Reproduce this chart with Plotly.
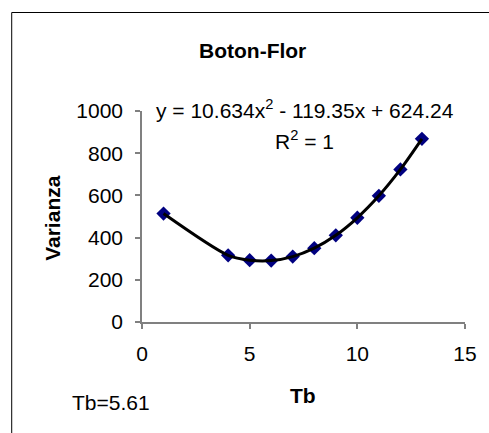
import plotly.graph_objects as go

tb = [1, 4, 5, 6, 7, 8, 9, 10, 11, 12, 13]
varianza = [514, 316, 293, 291, 310, 350, 411, 494, 598, 723, 868]
x_ticks = [0, 5, 10, 15]
y_ticks = [0, 200, 400, 600, 800, 1000]

W, H = 489, 433
L, R, T, B = 142, 21, 111, 111
pw, ph = W - L - R, H - T - B

def px(x):
    return (x - L) / pw

def py(y):
    return (H - B - y) / ph

FONT = "Liberation Sans, Arial, sans-serif"

fig = go.Figure()
fig.add_trace(go.Scatter(
    x=tb, y=varianza, mode="markers",
    marker=dict(symbol="diamond", size=11, color="#000080"),
    showlegend=False, cliponaxis=False,
))
fig.add_trace(go.Scatter(
    x=tb, y=varianza, mode="lines",
    line=dict(color="black", width=3, shape="spline", smoothing=0.8),
    showlegend=False, cliponaxis=False,
))

axis_common = dict(showgrid=False, zeroline=False, showline=True,
                   linecolor="#808080", linewidth=1.5, ticks="outside",
                   ticklen=5, tickcolor="#808080", tickwidth=1.5,
                   tickfont=dict(family=FONT, size=21, color="black"))

fig.update_xaxes(range=[0, 15], tickvals=x_ticks, ticklabelstandoff=7, **axis_common)
fig.update_yaxes(range=[0, 1000], tickvals=y_ticks, ticklabelstandoff=8, **axis_common)

ann = [
    dict(text="<b>Boton-Flor</b>", x=px(254), y=py(50), size=21),
    dict(text="<b>Varianza</b>", x=px(51), y=py(218), size=21, angle=-90),
    dict(text="<b>Tb</b>", x=px(304), y=py(395), size=21),
    dict(text="Tb=5.61", x=px(111), y=py(402), size=21),
    dict(text="y = 10.634x<sup>2</sup> - 119.35x + 624.24", x=px(307), y=py(109), size=21),
    dict(text="R<sup>2</sup> = 1", x=px(306), y=py(140), size=21),
]
for a in ann:
    fig.add_annotation(text=a["text"], x=a["x"], y=a["y"], xref="paper", yref="paper",
                       xanchor="center", yanchor="middle", showarrow=False,
                       textangle=a.get("angle", 0),
                       font=dict(family=FONT, size=a["size"], color="black"))

fig.add_shape(type="rect", xref="paper", yref="paper",
              x0=px(10.5), x1=px(520), y0=py(470), y1=py(12.5),
              line=dict(color="black", width=1), layer="below")

fig.update_layout(width=W, height=H, margin=dict(l=L, r=R, t=T, b=B),
                  paper_bgcolor="white", plot_bgcolor="white")
fig.write_html("out.html")
